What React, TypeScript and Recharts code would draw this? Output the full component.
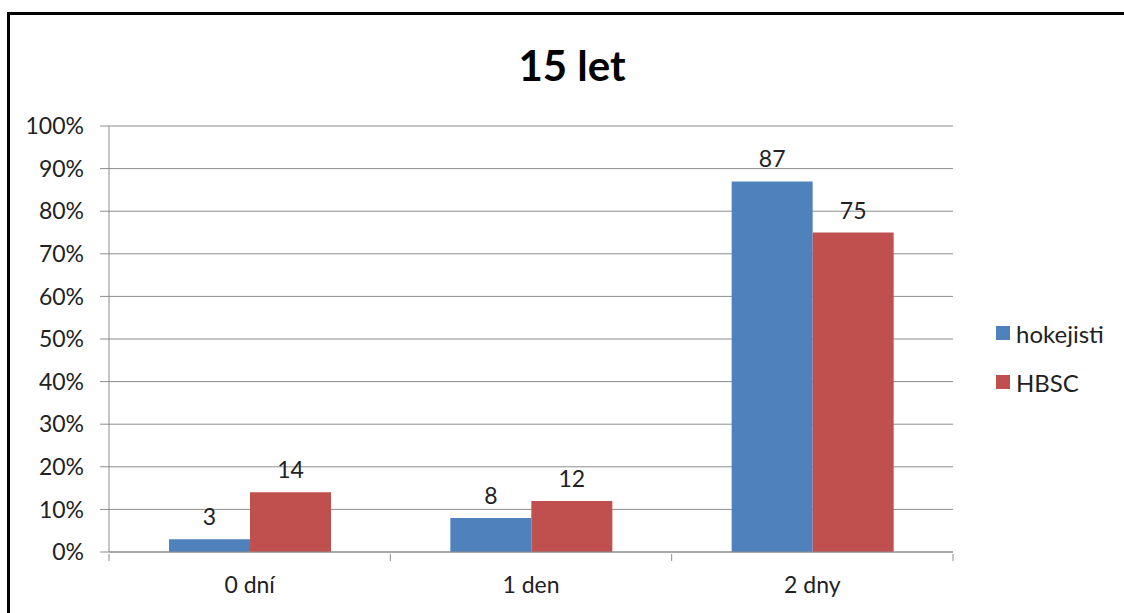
import { Bar, BarChart, CartesianGrid, LabelList, XAxis, YAxis } from "recharts";

const categories = ["0 dní", "1 den", "2 dny"];
const hokejisti = [3, 8, 87];
const hbsc = [14, 12, 75];
const yTicks = [0, 10, 20, 30, 40, 50, 60, 70, 80, 90, 100];

const data = categories.map((name, i) => ({ name, hokejisti: hokejisti[i], HBSC: hbsc[i] }));

const FONT = "Lato, 'Open Sans', sans-serif";
const GRID = "#8c8c8c";
const TEXT = "#222";
const BLUE = "#4F81BD";
const RED = "#C0504D";

// Category label plus Excel-style tick marks on the band boundaries
function CategoryTick(props: any) {
  const { x, y, payload, index } = props;
  const half = payload?.offset ?? 140.7;
  return (
    <g>
      <line x1={x - half} x2={x - half} y1={y - 6} y2={y + 1} stroke={GRID} />
      {index === categories.length - 1 && (
        <line x1={x + half} x2={x + half} y1={y - 6} y2={y + 1} stroke={GRID} />
      )}
      <text x={x} y={y + 33} textAnchor="middle" fontSize={23} fill={TEXT} fontFamily={FONT}>
        {payload.value}
      </text>
    </g>
  );
}

function LegendBox() {
  const items = [
    { label: "hokejisti", color: BLUE },
    { label: "HBSC", color: RED },
  ];
  return (
    <div style={{ fontFamily: FONT, fontSize: 24, color: TEXT }}>
      {items.map((it) => (
        <div key={it.label} style={{ display: "flex", alignItems: "center", height: 28, marginBottom: 21 }}>
          <span style={{ width: 14, height: 14, background: it.color, marginRight: 6 }} />
          {it.label}
        </div>
      ))}
    </div>
  );
}

export default function App() {
  return (
    <div style={{ position: "fixed", inset: 0, overflow: "hidden", background: "#fff" }}>
      <div
        style={{
          position: "absolute",
          left: 7,
          top: 12,
          width: 1200,
          height: 700,
          border: "3px solid #000",
        }}
      />
      <div
        style={{
          position: "absolute",
          left: 0,
          top: 38,
          width: 1144,
          textAlign: "center",
          fontFamily: FONT,
          fontWeight: 700,
          fontSize: 42,
          lineHeight: "54px",
          color: "#000",
        }}
      >
        15 let
      </div>
      <div style={{ position: "absolute", left: 0, top: 0 }}>
        <BarChart
          width={1124}
          height={613}
          data={data}
          margin={{ top: 126, right: 171, bottom: 0, left: 0 }}
          barCategoryGap={60}
          barGap={0}
        >
          <CartesianGrid vertical={false} stroke={GRID} />
          <XAxis
            dataKey="name"
            height={61}
            stroke={GRID}
            tickLine={false}
            tick={<CategoryTick />}
            interval={0}
          />
          <YAxis
            width={109}
            domain={[0, 100]}
            ticks={yTicks}
            tickFormatter={(v) => `${v}%`}
            stroke={GRID}
            tickSize={9}
            tick={{ fontSize: 23, fill: TEXT, fontFamily: FONT, dx: -14 }}
          />
          <Bar dataKey="hokejisti" fill={BLUE} isAnimationActive={false}>
            <LabelList dataKey="hokejisti" position="top" offset={14} fontSize={23} fill={TEXT} fontFamily={FONT} />
          </Bar>
          <Bar dataKey="HBSC" fill={RED} isAnimationActive={false}>
            <LabelList dataKey="HBSC" position="top" offset={14} fontSize={23} fill={TEXT} fontFamily={FONT} />
          </Bar>
        </BarChart>
      </div>
      <div style={{ position: "absolute", left: 996, top: 319 }}>
        <LegendBox />
      </div>
    </div>
  );
}
